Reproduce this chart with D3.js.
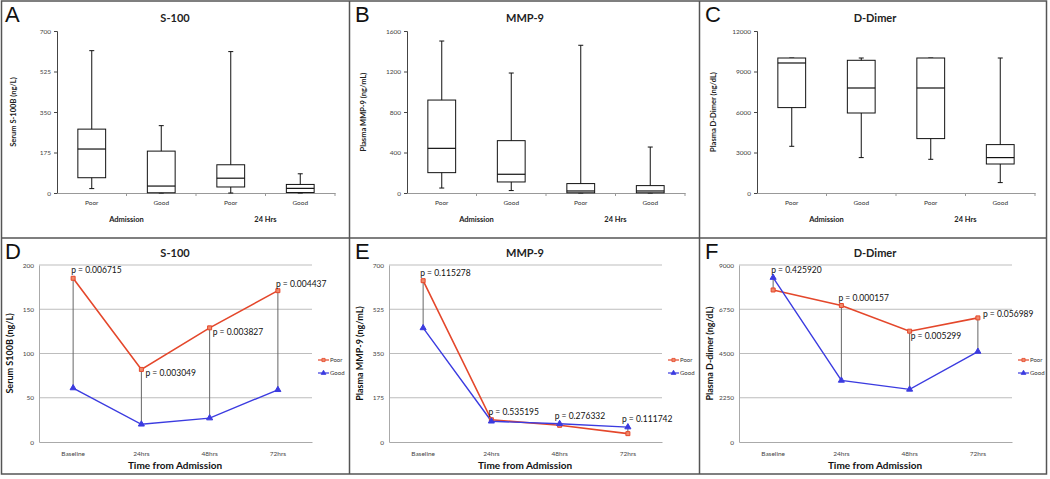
<!DOCTYPE html>
<html>
<head>
<meta charset="utf-8">
<script src="https://cdn.jsdelivr.net/npm/d3@7"></script>
<style>
  html, body { margin: 0; padding: 0; background: #fff; }
  svg { display: block; }
  text { font-family: Lato, "Open Sans", sans-serif; }
</style>
</head>
<body>
<svg id="chart" width="1050" height="479"></svg>
<script>
// ---------------- DATA ----------------
const boxCategories = ["Poor", "Good", "Poor", "Good"];
const boxGroups = ["Admission", "24 Hrs"];
// each box: [lower whisker, Q1, median, Q3, upper whisker]
const s100Box = [[19, 66, 190, 276, 615], [0, 1, 30, 181, 291], [0, 26, 64, 122, 611], [0, 2, 20, 37, 83]];
const mmp9Box = [[49, 201, 441, 918, 1501], [24, 109, 185, 517, 1185], [0, 2, 20, 93, 1459], [0, 2, 20, 73, 454]];
const dimerBox = [[3459, 6326, 9630, 10000, 10000], [2622, 5926, 7778, 9830, 10000], [2496, 4030, 7778, 10000, 10000], [770, 2148, 2622, 3585, 10000]];
const s100BoxTicks = [0, 175, 350, 525, 700];
const mmp9BoxTicks = [0, 400, 800, 1200, 1600];
const dimerBoxTicks = [0, 3000, 6000, 9000, 12000];

const timepoints = ["Baseline", "24hrs", "48hrs", "72hrs"];
const seriesNames = ["Poor", "Good"];
const s100Poor = [185, 82, 129, 171];
const s100Good = [61, 20, 27, 59];
const s100P = ["p = 0.006715", "p = 0.003049", "p = 0.003827", "p = 0.004437"];
const mmp9Poor = [638, 88, 66, 33];
const mmp9Good = [451, 82, 72, 59];
const mmp9P = ["p = 0.115278", "p = 0.535195", "p = 0.276332", "p = 0.111742"];
const dimerPoor = [7730, 6940, 5635, 6310];
const dimerGood = [8360, 3130, 2675, 4600];
const dimerP = ["p = 0.425920", "p = 0.000157", "p = 0.005299", "p = 0.056989"];
const s100LineTicks = [0, 50, 100, 150, 200];
const mmp9LineTicks = [0, 175, 350, 525, 700];
const dimerLineTicks = [0, 2250, 4500, 6750, 9000];

// ---------------- DRAW ----------------
const svg = d3.select("#chart");
const RED = "#e4472b", BLUE = "#3b3be0";
const fmt = d3.format("d");

function panelFrame(g, letter, title, titleY) {
  g.append("text").attr("x", 5).attr("y", 21.5)
    .style("font-family", "'Liberation Sans', Arial, sans-serif")
    .style("font-size", "22px").attr("fill", "#111").text(letter);
  g.append("text").attr("x", 175).attr("y", titleY).attr("text-anchor", "middle")
    .style("font-size", "11px").style("font-weight", "bold").attr("fill", "#222").text(title);
}

function drawBox(px, letter, title, ylabel, stats, ticks) {
  const g = svg.append("g").attr("transform", `translate(${px},0)`);
  panelFrame(g, letter, title, 22);
  const x = d3.scaleBand().domain(d3.range(stats.length)).range([57, 335]);
  const y = d3.scaleLinear().domain([0, d3.max(ticks)]).range([193, 31]);

  const ya = g.append("g").attr("transform", "translate(57,0)")
    .call(d3.axisLeft(y).tickValues(ticks).tickFormat(fmt).tickSize(3).tickPadding(3));
  ya.select(".domain").attr("stroke", "#444");
  ya.selectAll(".tick line").attr("stroke", "#444");
  ya.selectAll("text").style("font-size", "6.5px").attr("fill", "#444");

  const xa = g.append("g").attr("transform", "translate(0,193)")
    .call(d3.axisBottom(x).tickSize(0).tickPadding(7).tickFormat(i => boxCategories[i]));
  xa.select(".domain").attr("stroke", "#999");
  xa.selectAll("text").style("font-size", "6.5px").attr("fill", "#333");
  g.selectAll(".bnd").data(d3.range(1, stats.length + 1)).join("line")
    .attr("x1", i => x(i - 1) + x.bandwidth()).attr("x2", i => x(i - 1) + x.bandwidth())
    .attr("y1", 193).attr("y2", 196).attr("stroke", "#999");

  g.selectAll(".grp").data(boxGroups).join("text")
    .attr("x", (d, k) => (x(2 * k) + x(2 * k + 1) + x.bandwidth()) / 2)
    .attr("y", 222).attr("text-anchor", "middle")
    .style("font-size", "7.5px").style("font-weight", "bold").attr("fill", "#222").text(d => d);

  g.append("text").attr("transform", `translate(16,${(31 + 193) / 2}) rotate(-90)`)
    .attr("text-anchor", "middle").style("font-size", "7.5px").style("font-weight", "bold")
    .attr("fill", "#222").text(ylabel);

  const bw = x.bandwidth() * 0.4;
  const boxes = g.selectAll(".box").data(stats).join("g")
    .attr("transform", (d, i) => `translate(${x(i) + x.bandwidth() / 2},0)`);
  boxes.append("line").attr("x1", 0).attr("x2", 0)
    .attr("y1", d => y(d[0])).attr("y2", d => y(d[4])).attr("stroke", "#111").attr("stroke-width", 1);
  boxes.append("line").attr("x1", -2.5).attr("x2", 2.5)
    .attr("y1", d => y(d[4])).attr("y2", d => y(d[4])).attr("stroke", "#111");
  boxes.append("line").attr("x1", -2.5).attr("x2", 2.5)
    .attr("y1", d => y(d[0])).attr("y2", d => y(d[0])).attr("stroke", "#111");
  boxes.append("rect").attr("x", -bw / 2).attr("width", bw)
    .attr("y", d => y(d[3])).attr("height", d => y(d[1]) - y(d[3]))
    .attr("fill", "#fff").attr("stroke", "#111").attr("stroke-width", 1);
  boxes.append("line").attr("x1", -bw / 2).attr("x2", bw / 2)
    .attr("y1", d => y(d[2])).attr("y2", d => y(d[2])).attr("stroke", "#111").attr("stroke-width", 1.2);
}

function drawLine(px, letter, title, ylabel, poor, good, ticks, pLabels, placement) {
  const py = 237;
  const g = svg.append("g").attr("transform", `translate(${px},${py})`);
  panelFrame(g, letter, title, 20);
  const x = d3.scaleBand().domain(timepoints).range([39, 312]);
  const cx = d => x(d) + x.bandwidth() / 2;
  const y = d3.scaleLinear().domain([0, d3.max(ticks)]).range([205, 28]);

  g.selectAll(".grid").data(ticks.slice(1)).join("line")
    .attr("x1", 39).attr("x2", 312).attr("y1", d => y(d)).attr("y2", d => y(d))
    .attr("stroke", "#bdbdbd").attr("stroke-width", 1);

  const ya = g.append("g").attr("transform", "translate(39,0)")
    .call(d3.axisLeft(y).tickValues(ticks).tickFormat(fmt).tickSize(0).tickPadding(5));
  ya.select(".domain").attr("stroke", "#aaa");
  ya.selectAll("text").style("font-size", "6.5px").attr("fill", "#444");

  const xa = g.append("g").attr("transform", "translate(0,205)")
    .call(d3.axisBottom(x).tickSize(0).tickPadding(9));
  xa.select(".domain").attr("stroke", "#aaa");
  xa.selectAll("text").style("font-size", "6.5px").attr("fill", "#444");

  g.append("text").attr("x", 175).attr("y", 232).attr("text-anchor", "middle")
    .style("font-size", "10px").style("font-weight", "bold").attr("fill", "#111").text("Time from Admission");
  g.append("text").attr("transform", `translate(13,${(28 + 205) / 2}) rotate(-90)`)
    .attr("text-anchor", "middle").style("font-size", "9px").style("font-weight", "bold")
    .attr("fill", "#111").text(ylabel);

  // high-low drop lines
  g.selectAll(".hl").data(timepoints).join("line")
    .attr("x1", d => cx(d)).attr("x2", d => cx(d))
    .attr("y1", (d, i) => y(poor[i])).attr("y2", (d, i) => y(good[i]))
    .attr("stroke", "#666").attr("stroke-width", 1);

  const line = d3.line().x((d, i) => cx(timepoints[i])).y(d => y(d));
  g.append("path").datum(poor).attr("d", line).attr("fill", "none").attr("stroke", RED).attr("stroke-width", 1.6);
  g.append("path").datum(good).attr("d", line).attr("fill", "none").attr("stroke", BLUE).attr("stroke-width", 1.4);

  const sq = d3.symbol().type(d3.symbolSquare).size(16);
  const tri = d3.symbol().type(d3.symbolTriangle).size(16);
  g.selectAll(".pm").data(poor).join("path")
    .attr("transform", (d, i) => `translate(${cx(timepoints[i])},${y(d)})`)
    .attr("d", sq).attr("fill", "#f08a6a").attr("stroke", RED).attr("stroke-width", 1);
  g.selectAll(".gm").data(good).join("path")
    .attr("transform", (d, i) => `translate(${cx(timepoints[i])},${y(d)})`)
    .attr("d", tri).attr("fill", BLUE).attr("stroke", BLUE);

  // p-value annotations
  g.selectAll(".pv").data(pLabels).join("text")
    .attr("x", (d, i) => cx(timepoints[i]) + placement[i][0])
    .attr("y", (d, i) => y(placement[i][2] === "top" ? Math.max(poor[i], good[i]) : poor[i]) + placement[i][1])
    .style("font-size", "8.5px").attr("fill", "#111").text(d => d);

  // legend
  const lg = g.append("g").attr("transform", "translate(318,123)");
  const colors = [RED, BLUE];
  seriesNames.forEach((s, k) => {
    const row = lg.append("g").attr("transform", `translate(0,${k * 13})`);
    row.append("line").attr("x1", 0).attr("x2", 11).attr("y1", 0).attr("y2", 0).attr("stroke", colors[k]).attr("stroke-width", 1.2);
    row.append("path").attr("transform", "translate(5.5,0)").attr("d", k === 0 ? d3.symbol().type(d3.symbolSquare).size(10) : d3.symbol().type(d3.symbolTriangle).size(10))
      .attr("fill", k === 0 ? "#f08a6a" : BLUE).attr("stroke", colors[k]).attr("stroke-width", 0.8);
    row.append("text").attr("x", 12).attr("y", 2.2).style("font-size", "6px").attr("fill", "#333").text(s);
  });
}

// placements: [dx, dy, anchorSeries]
const s100Place = [[-2, -5, "top"], [4, 7, "poor"], [3, 7, "poor"], [-2, -4, "top"]];
const mmp9Place = [[-3, -5, "top"], [-3, -5, "top"], [-5, -5, "top"], [-6, -5, "top"]];
const dimerPlace = [[-2, -5, "top"], [-3, -5, "top"], [1, 8, "poor"], [5, -1, "poor"]];

drawBox(0, "A", "S-100", "Serum S-100B (ng/L)", s100Box, s100BoxTicks);
drawBox(350, "B", "MMP-9", "Plasma MMP-9 (ng/mL)", mmp9Box, mmp9BoxTicks);
drawBox(700, "C", "D-Dimer", "Plasma D-Dimer (ng/dL)", dimerBox, dimerBoxTicks);
drawLine(0, "D", "S-100", "Serum S100B (ng/L)", s100Poor, s100Good, s100LineTicks, s100P, s100Place);
drawLine(350, "E", "MMP-9", "Plasma MMP-9 (ng/mL)", mmp9Poor, mmp9Good, mmp9LineTicks, mmp9P, mmp9Place);
drawLine(700, "F", "D-Dimer", "Plasma D-dimer (ng/dL)", dimerPoor, dimerGood, dimerLineTicks, dimerP, dimerPlace);

// panel borders
const frame = svg.append("g").attr("fill", "none").attr("stroke", "#555").attr("stroke-width", 1.5);
frame.append("rect").attr("x", 1.5).attr("y", 1).attr("width", 1045).attr("height", 473);
frame.append("line").attr("x1", 349.5).attr("x2", 349.5).attr("y1", 1).attr("y2", 474);
frame.append("line").attr("x1", 699.5).attr("x2", 699.5).attr("y1", 1).attr("y2", 474);
frame.append("line").attr("x1", 1.5).attr("x2", 1046.5).attr("y1", 238).attr("y2", 238);
</script>
</body>
</html>
